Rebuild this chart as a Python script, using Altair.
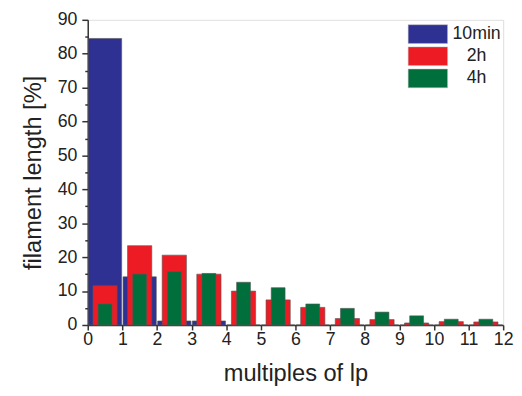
import altair as alt
import pandas as pd

bins = list(range(12))
series_names = ["10min", "2h", "4h"]
blue_10min = [84.5, 14.2, 1.2, 1.2, 0, 0, 0, 0, 0, 0, 0, 0]
red_2h = [11.6, 23.4, 20.6, 15.0, 10.0, 7.4, 5.2, 1.9, 1.6, 0.6, 1.0, 0.9]
green_4h = [6.2, 15.0, 15.7, 15.2, 12.6, 11.0, 6.2, 4.9, 3.8, 2.7, 1.7, 1.7]
x_ticks = list(range(13))
y_ticks = list(range(0, 95, 5))
colors = ["#2e3192", "#ed1c24", "#006f3c"]

rows = []
for name, vals in zip(series_names, [blue_10min, red_2h, green_4h]):
    for b, v in zip(bins, vals):
        rows.append({"bin": b, "value": v, "series": name})
df = pd.DataFrame(rows)

FONT = "Liberation Sans"
color_enc = alt.Color(
    "series:N",
    scale=alt.Scale(domain=series_names, range=colors),
    legend=alt.Legend(
        title=None,
        orient="none",
        legendX=335,
        legendY=4,
        symbolType="M-2,-0.95L2,-0.95L2,0.95L-2,0.95Z",
        symbolSize=400,
        symbolStrokeColor="#bbbbbb",
        symbolStrokeWidth=0.5,
        labelFont=FONT,
        labelFontSize=18,
        labelColor="#222222",
        labelAlign="center",
        labelOffset=39,
        rowPadding=1.5,
        padding=0,
    ),
)

x_enc = alt.X(
    "x0:Q",
    scale=alt.Scale(domain=[0, 12], nice=False),
    axis=alt.Axis(
        values=x_ticks,
        format="d",
        title="multiples of lp",
        titleFont=FONT,
        titleFontSize=24,
        titleFontWeight="normal",
        titleColor="#222222",
        titlePadding=13,
        labelFont=FONT,
        labelFontSize=18,
        labelColor="#222222",
        labelPadding=1,
        tickSize=5,
        tickWidth=1.5,
        tickColor="#333333",
        domainColor="#333333",
        domainWidth=1.5,
        grid=False,
        labelFlush=False,
    ),
)
y_enc = alt.Y(
    "value:Q",
    scale=alt.Scale(domain=[0, 90], nice=False),
    axis=alt.Axis(
        values=y_ticks,
        labelExpr="datum.value % 10 == 0 ? datum.label : ''",
        title="filament length [%]",
        titleFont=FONT,
        titleFontSize=24,
        titleFontWeight="normal",
        titleColor="#222222",
        titlePadding=12,
        labelFont=FONT,
        labelFontSize=18,
        labelColor="#222222",
        labelPadding=5,
        tickSize={"condition": {"test": "datum.value % 10 != 0", "value": 3}, "value": 6},
        tickWidth=1.5,
        tickColor="#333333",
        domainColor="#333333",
        domainWidth=1.5,
        grid=False,
        labelOverlap=False,
    ),
)

offsets = {"10min": (0.02, 0.98), "2h": (0.15, 0.85), "4h": (0.3, 0.7)}

layers = []
for name in series_names:
    lo, hi = offsets[name]
    layer = (
        alt.Chart(df)
        .transform_filter(alt.datum.series == name)
        .transform_calculate(x0=f"datum.bin + {lo}", x1=f"datum.bin + {hi}")
        .mark_bar(stroke="#555555", strokeWidth=0.6)
        .encode(x=x_enc, x2="x1:Q", y=y_enc, y2=alt.datum(0), color=color_enc)
    )
    layers.append(layer)

chart = (
    alt.layer(*layers)
    .properties(
        width=514,
        height=380,
        padding={"left": 13, "top": 0, "right": 0, "bottom": 0},
        autosize=alt.AutoSizeParams(type="fit", contains="padding"),
    )
    .configure_view(stroke="#333333", strokeWidth=1.5)
    .configure(background="white")
)

chart.save("out.html", embed_options={"renderer": "svg", "actions": False})
